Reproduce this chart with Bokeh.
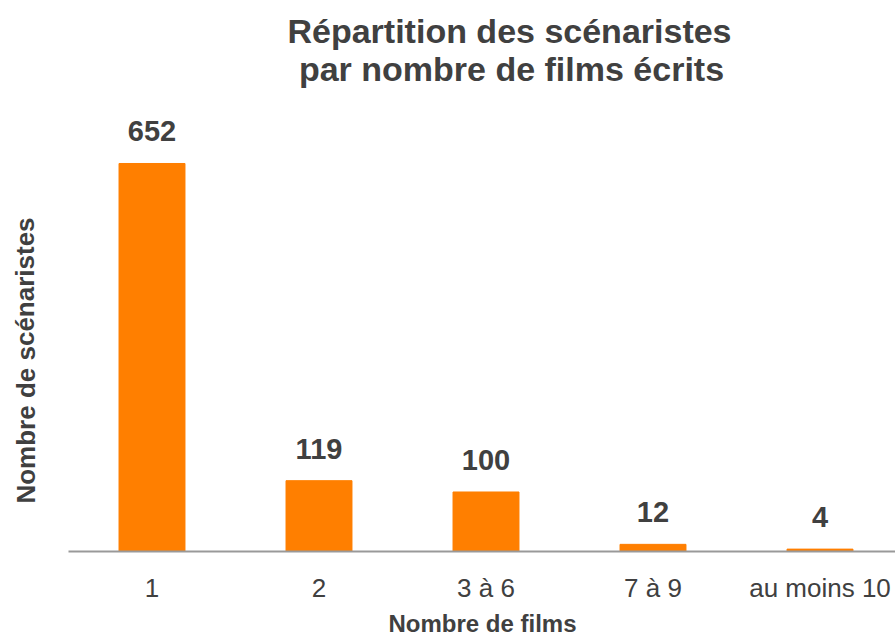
from bokeh.plotting import figure
from bokeh.layouts import column, row
from bokeh.models import Range1d, FixedTicker, Label, ColumnDataSource
from bokeh.core.properties import value
from bokeh.embed import file_html
from bokeh.resources import INLINE

categories = ["1", "2", "3 à 6", "7 à 9", "au moins 10"]
counts = [652, 119, 100, 12, 4]
title_lines = ["Répartition des scénaristes", "par nombre de films écrits"]
x_title = "Nombre de films"
y_title = "Nombre de scénaristes"

FONT = "Liberation Sans"
TXT = "#404040"
ORANGE = "#FF7F00"

WIN_W, WIN_H = 895, 637
TOP_H = 110          # title band
LEFT_W = 68          # y-title band
MAIN_W = WIN_W - LEFT_W
FRAME_H = 441        # plot frame height
AXIS_H = 56          # room below frame for tick labels
MAIN_H = FRAME_H + AXIS_H
BOT_H = WIN_H - TOP_H - MAIN_H
PITCH = 167.0
PX_PER_UNIT = 0.5951
LBL_SHIFT = 12       # baseline correction for labels


def blank(w, h):
    f = figure(width=w, height=h, output_backend="svg", toolbar_location=None,
               x_axis_type=None, y_axis_type=None, x_range=Range1d(0, 1), y_range=Range1d(0, 1),
               min_border=0)
    f.outline_line_color = None
    f.grid.visible = False
    f.background_fill_color = "white"
    f.border_fill_color = "white"
    return f


# title band
t = blank(WIN_W, TOP_H)
for txt, cx, base in zip(title_lines, [509, 511], [42, 80]):
    t.add_layout(Label(x=cx, y=TOP_H - base + LBL_SHIFT, x_units="screen", y_units="screen",
                       text=txt, text_align="center", text_baseline="alphabetic", text_font=FONT,
                       text_font_style="bold", text_font_size="34px", text_color=TXT))

# y-title band
yb = blank(LEFT_W, WIN_H - TOP_H)
yb.add_layout(Label(x=37 - LBL_SHIFT, y=WIN_H - 360, x_units="screen", y_units="screen",
                    text=y_title, angle=1.5708, text_align="center", text_baseline="alphabetic",
                    text_font=FONT, text_font_style="bold", text_font_size="26px",
                    text_color=TXT))

# main chart
xs = list(range(len(categories)))
src = ColumnDataSource(dict(x=xs, top=counts, lab=[str(c) for c in counts]))

p = figure(width=MAIN_W, height=MAIN_H, output_backend="svg", toolbar_location=None,
           x_range=Range1d(-0.5, -0.5 + MAIN_W / PITCH),
           y_range=Range1d(0, FRAME_H / PX_PER_UNIT),
           min_border_left=0, min_border_right=0, min_border_top=0, min_border_bottom=AXIS_H)
p.outline_line_color = None
p.grid.visible = False
p.background_fill_color = "white"
p.border_fill_color = "white"
p.yaxis.visible = False

p.vbar(x="x", top="top", width=0.395, source=src, color=ORANGE)
p.text(x="x", y="top", text="lab", source=src, text_align="center", text_baseline="alphabetic",
       y_offset=-20 - LBL_SHIFT, text_font=value(FONT), text_font_style="bold",
       text_font_size="29px", text_color=TXT)

ax = p.xaxis[0]
ax.ticker = FixedTicker(ticks=xs)
ax.major_label_overrides = {i: c for i, c in enumerate(categories)}
ax.major_tick_line_color = None
ax.minor_tick_line_color = None
ax.axis_line_color = "#999999"
ax.axis_line_width = 2
ax.major_label_text_font = FONT
ax.major_label_text_font_size = "26px"
ax.major_label_text_color = TXT
ax.major_label_standoff = 15

# x-title band
xb = blank(MAIN_W, BOT_H)
xb.add_layout(Label(x=414, y=2 + LBL_SHIFT, x_units="screen", y_units="screen", text=x_title,
                    text_align="center", text_baseline="alphabetic", text_font=FONT,
                    text_font_style="bold", text_font_size="24px", text_color=TXT))

layout = column(t, row(yb, column(p, xb, spacing=0), spacing=0), spacing=0)
open("out.html", "w").write(file_html(layout, INLINE))
